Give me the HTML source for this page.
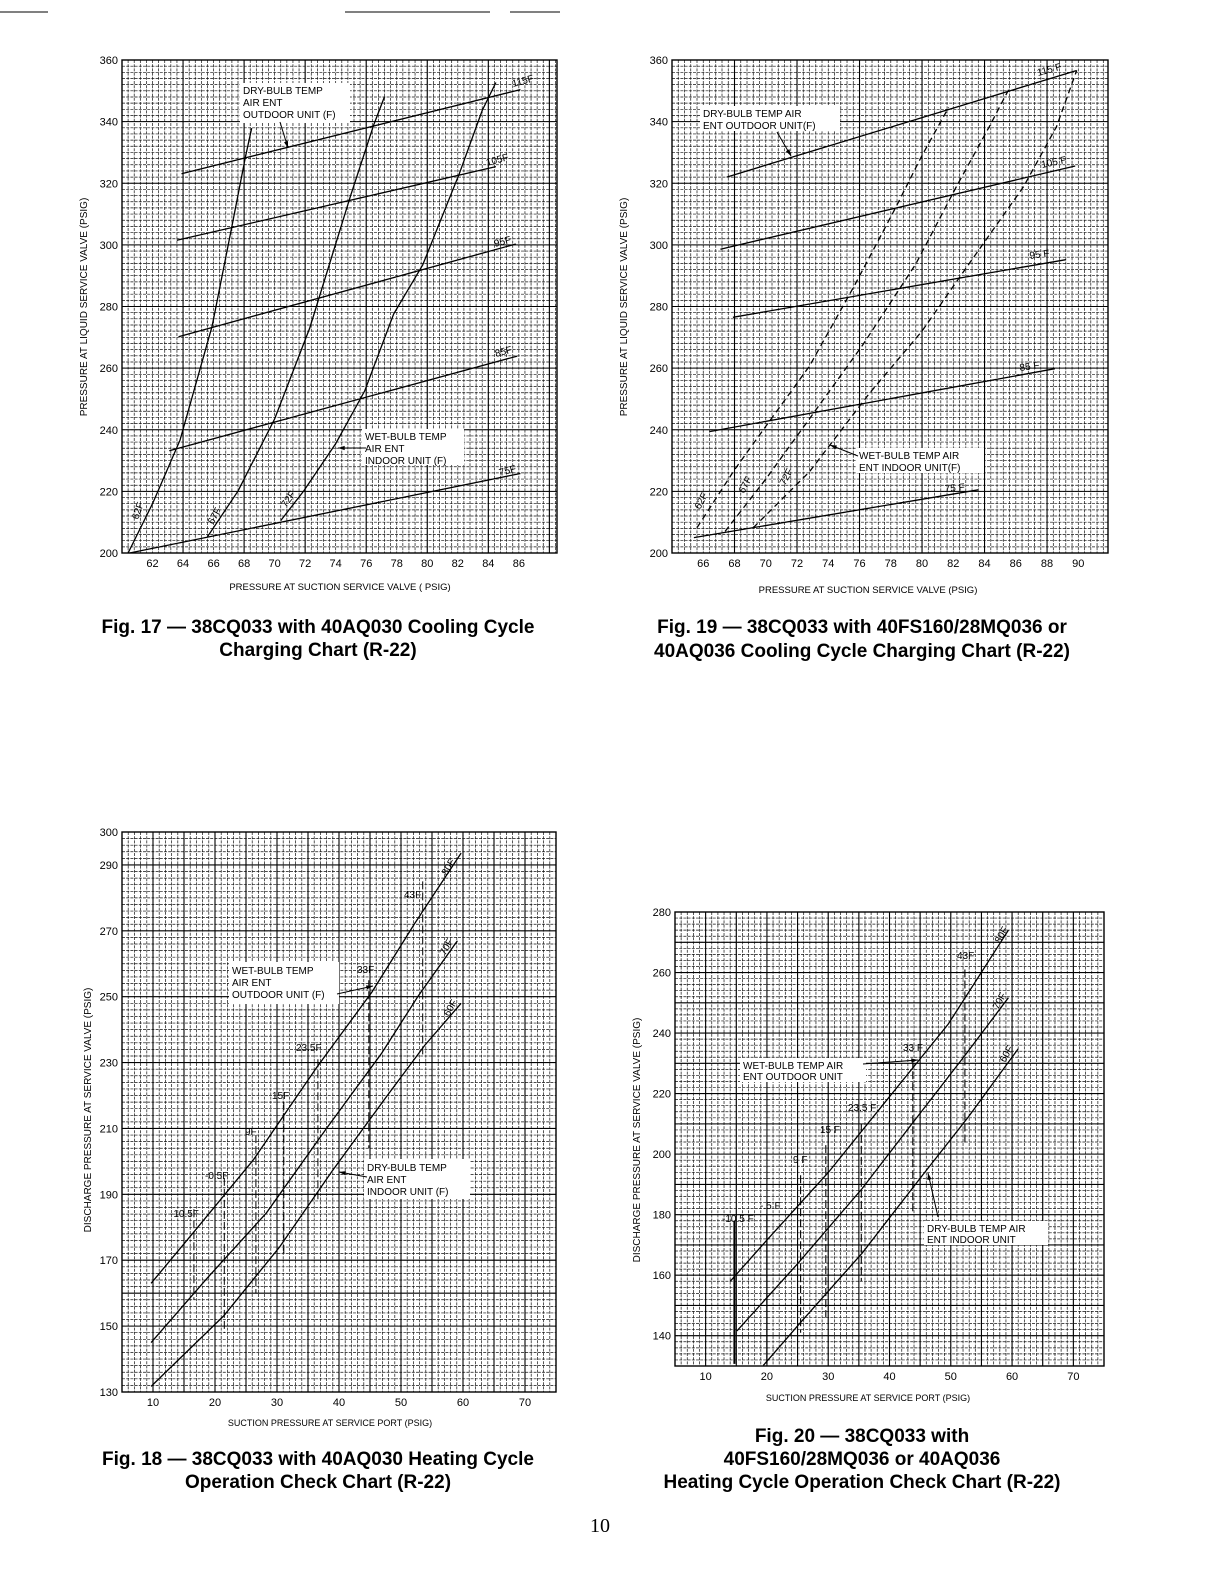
<!DOCTYPE html>
<html><head><meta charset="utf-8">
<style>
html,body{margin:0;padding:0;background:#fff;}
body{width:1222px;height:1583px;overflow:hidden;position:relative;font-family:"Liberation Sans",sans-serif;}
svg{position:absolute;left:0;top:0;}
</style></head>
<body>
<svg id="s" width="1222" height="1583" viewBox="0 0 1222 1583" xmlns="http://www.w3.org/2000/svg">
<line x1="0" y1="12" x2="48" y2="12" stroke="#000" stroke-width="1"/>
<line x1="345" y1="12" x2="490" y2="12" stroke="#000" stroke-width="1"/>
<line x1="510" y1="12" x2="560" y2="12" stroke="#000" stroke-width="1"/>
<text x="600" y="1532" font-family="Liberation Serif,serif" font-size="20" text-anchor="middle">10</text>
</svg>
<script>
const S=document.getElementById('s');const NS='http://www.w3.org/2000/svg';
function el(n,a){const e=document.createElementNS(NS,n);for(const k in a)e.setAttribute(k,a[k]);S.appendChild(e);return e;}
function t(x,y,s,o){o=o||{};const a={x:x,y:y,'font-size':o.fs||10,'text-anchor':o.a||'start','font-family':'Liberation Sans,sans-serif'};
 if(o.w)a['font-weight']=o.w; if(o.r)a.transform='rotate('+o.r+' '+x+' '+y+')';
 const e=el('text',a);e.textContent=s;return e;}
function box(x,y,w,h){el('rect',{x:x,y:y,width:w,height:h,fill:'#fff'});}
function chart(c){
 const X=v=>c.L+(v-c.x0)/(c.x1-c.x0)*(c.R-c.L);
 const Y=v=>c.B-(v-c.y0)/(c.y1-c.y0)*(c.B-c.T);
 c.X=X;c.Y=Y;
 for(let v=c.x0;v<=c.x1+1e-6;v+=c.xm){const x=X(v);el('line',{x1:x,y1:c.T,x2:x,y2:c.B,stroke:'#111','stroke-width':0.7,'stroke-dasharray':'3,1.2'});}
 for(let v=c.y0;v<=c.y1+1e-6;v+=c.ym){const y=Y(v);el('line',{x1:c.L,y1:y,x2:c.R,y2:y,stroke:'#111','stroke-width':0.7,'stroke-dasharray':'3,1.2'});}
 for(const v of c.xM){const x=X(v);el('line',{x1:x,y1:c.T,x2:x,y2:c.B,stroke:'#000','stroke-width':1.1});}
 for(const v of c.yM){const y=Y(v);el('line',{x1:c.L,y1:y,x2:c.R,y2:y,stroke:'#000','stroke-width':1.1});}
 el('rect',{x:c.L,y:c.T,width:c.R-c.L,height:c.B-c.T,fill:'none',stroke:'#000','stroke-width':1.4});
 for(const v of c.yt){t(c.L-4,Y(v)+4,String(v),{fs:11,a:'end'});}
 for(const v of c.xt){t(X(v),c.B+14,String(v),{fs:11,a:'middle'});}
 return c;}
function line(c,pts,dash,w){el('polyline',{points:pts.map(p=>c.X(p[0]).toFixed(1)+','+c.Y(p[1]).toFixed(1)).join(' '),fill:'none',stroke:'#000','stroke-width':w||1.3,'stroke-dasharray':dash||'none'});}
function arrow(x1,y1,x2,y2){el('line',{x1:x1,y1:y1,x2:x2,y2:y2,stroke:'#000','stroke-width':1});
 const a=Math.atan2(y2-y1,x2-x1),l=7;el('polygon',{points:[x2,y2,x2-l*Math.cos(a-0.3),y2-l*Math.sin(a-0.3),x2-l*Math.cos(a+0.3),y2-l*Math.sin(a+0.3)].join(','),fill:'#000'});}
function lbl(x,y,s,r,fs){t(x,y,s,{fs:fs||10,r:r});}

let c1=chart({L:122,R:557,T:60,B:553,x0:60,x1:88.5,y0:200,y1:360,xm:0.4,ym:2,
 xM:[64,68,72,76,80,84,88],yM:[220,240,260,280,300,320,340],yt:[200,220,240,260,280,300,320,340,360],xt:[62,64,66,68,70,72,74,76,78,80,82,84,86]});
line(c1,[[60.5,200],[86.1,225.8]]);line(c1,[[63.1,233.2],[85.9,263.9]]);line(c1,[[63.7,270.2],[85.8,300.3]]);
line(c1,[[63.6,301.5],[84.5,325.4]]);line(c1,[[63.9,323.1],[86.1,350.4]]);
line(c1,[[60.4,200],[62,216],[63.8,236.6],[65.9,273.6],[67.2,306],[68.1,328.8],[68.5,337.9]]);
line(c1,[[65.6,205.3],[67.6,220.1],[70,243.5],[72.3,273],[75,316.3],[76.5,339],[77.2,348.1]]);
line(c1,[[70.4,210.5],[71.9,220.1],[74,235.5],[75.9,252.6],[77.8,277.6],[79.7,293.5],[82.1,323.1],[83.6,343.6],[84.5,352.7]]);
box(240,83,110,40);lbl(243,94,'DRY-BULB TEMP');lbl(243,106,'AIR ENT');lbl(243,118,'OUTDOOR UNIT (F)');arrow(280,122,288,148);
box(362,429,102,36);lbl(365,440,'WET-BULB TEMP');lbl(365,452,'AIR ENT');lbl(365,464,'INDOOR UNIT (F)');arrow(366,448,338,448);
lbl(513,87,'115F',-15);lbl(487,166,'105F',-15);lbl(495,247,'95F',-15);lbl(496,357,'85F',-15);lbl(500,476,'75F',-15);
lbl(138,520,'62F',-70);lbl(213,525,'67F',-60);lbl(286,508,'72F',-55);
t(87,307,'PRESSURE AT LIQUID SERVICE VALVE (PSIG)',{fs:10,a:'middle',r:-90});
t(340,590,'PRESSURE AT SUCTION SERVICE VALVE ( PSIG)',{fs:9.5,a:'middle'});
t(318,633,'Fig. 17 — 38CQ033 with 40AQ030 Cooling Cycle',{fs:19,a:'middle',w:'bold'});
t(318,656,'Charging Chart (R-22)',{fs:19,a:'middle',w:'bold'});

let c2=chart({L:672,R:1108,T:60,B:553,x0:64,x1:91.9,y0:200,y1:360,xm:0.4,ym:2,
 xM:[68,72,76,80,84,88],yM:[220,240,260,280,300,320,340],yt:[200,220,240,260,280,300,320,340,360],xt:[66,68,70,72,74,76,78,80,82,84,86,88,90]});
line(c2,[[65.4,205],[83.6,220.5]]);line(c2,[[66.4,239.4],[88.5,259.8]]);line(c2,[[67.9,276.5],[89.2,295.2]]);
line(c2,[[67.1,298.6],[89.8,325.6]]);line(c2,[[67.5,322],[89.9,356.6]]);
const D='6,4';
line(c2,[[65.6,208.2],[68,227],[70.2,242.5],[72.8,260.7],[75.7,287],[78.3,312],[80,329],[81.7,344.6]],D);
line(c2,[[67.4,207],[70,224],[72.8,243.6],[76.2,267.5],[79.6,293.8],[82.2,318.9],[84.3,338.3],[85.6,350.9]],D);
line(c2,[[69.2,208.2],[72.8,226.4],[76.6,251.6],[80,272],[83,293.8],[86.5,318.9],[88.6,338.3],[89.9,356.6]],D);
box(700,106,140,25);lbl(703,117,'DRY-BULB TEMP AIR');lbl(703,129,'ENT OUTDOOR UNIT(F)');arrow(777,132,791,156);
box(856,448,128,25);lbl(859,459,'WET-BULB TEMP AIR');lbl(859,471,'ENT INDOOR UNIT(F)');arrow(858,456,830,445);
lbl(1038,76,'115 F',-15);lbl(1042,168,'105 F',-12);lbl(1030,259,'95 F',-8);lbl(1020,371,'85 F',-8);lbl(945,492,'75 F',-5);
lbl(700,510,'62F',-62);lbl(744,494,'67F',-62);lbl(785,486,'72F',-62);
t(627,307,'PRESSURE AT LIQUID SERVICE VALVE (PSIG)',{fs:10,a:'middle',r:-90});
t(868,593,'PRESSURE AT SUCTION SERVICE VALVE (PSIG)',{fs:9.5,a:'middle'});
t(862,633,'Fig. 19 — 38CQ033 with 40FS160/28MQ036 or',{fs:19,a:'middle',w:'bold'});
t(862,657,'40AQ036 Cooling Cycle Charging Chart (R-22)',{fs:19,a:'middle',w:'bold'});

let c3=chart({L:122,R:556,T:832,B:1392,x0:5,x1:75,y0:130,y1:300,xm:1,ym:2,
 xM:[10,15,20,25,30,35,40,45,50,55,60,65,70],yM:[150,160,170,190,210,230,250,270,290],yt:[130,150,170,190,210,230,250,270,290,300],xt:[10,20,30,40,50,60,70]});
line(c3,[[9.7,163],[16.6,178.6],[26.2,200.5],[36.3,228.3],[45.3,251.4],[52.2,272.2],[59.7,293.6]]);
line(c3,[[9.7,145],[18.8,164.7],[28.3,184.4],[37.9,209.8],[46.9,232.9],[52.8,250.3],[59.1,267]]);
line(c3,[[9.7,131.7],[21.4,153.1],[30.4,174],[38.9,197.1],[47.4,219],[53.8,235.2],[59.7,248]]);
[[16.6,185.5,158],[21.5,195,148],[26.6,208,160],[31.1,218,172],[36.6,231,188],[44.8,255,204],[53.5,285,232]].forEach(v=>line(c3,[[v[0],v[1]],[v[0],v[2]]],'8,3',1.0));
box(229,962,110,42);lbl(232,974,'WET-BULB TEMP');lbl(232,986,'AIR ENT');lbl(232,998,'OUTDOOR UNIT (F)');arrow(337,994,373,986);
box(364,1159,106,40);lbl(367,1171,'DRY-BULB TEMP');lbl(367,1183,'AIR ENT');lbl(367,1195,'INDOOR UNIT (F)');arrow(367,1177,339,1172);
lbl(447,876,'80F',-60);lbl(445,956,'70F',-60);lbl(449,1017,'60F',-60);
lbl(404,898,'43F');lbl(357,973,'33F');lbl(296,1051,'23.5F');lbl(272,1099,'15F');lbl(245,1135,'9F');lbl(205,1179,'-0.5F');lbl(170,1217,'-10.5F');
t(91,1110,'DISCHARGE PRESSURE AT SERVICE VALVE (PSIG)',{fs:10,a:'middle',r:-90});
t(330,1426,'SUCTION PRESSURE AT SERVICE PORT (PSIG)',{fs:9,a:'middle'});
t(318,1465,'Fig. 18 — 38CQ033 with 40AQ030 Heating Cycle',{fs:19,a:'middle',w:'bold'});
t(318,1488,'Operation Check Chart (R-22)',{fs:19,a:'middle',w:'bold'});

let c4=chart({L:675,R:1104,T:912,B:1366,x0:5,x1:75,y0:130,y1:280,xm:1,ym:2,
 xM:[10,15,20,25,30,35,40,45,50,55,60,65,70],yM:[140,150,160,170,180,190,200,210,220,230,240,250,260,270],yt:[140,160,180,200,220,240,260,280],xt:[10,20,30,40,50,60,70]});
line(c4,[[14,158],[20,171.6],[30,193.9],[40.4,220],[49.6,243],[59.4,274]]);
line(c4,[[15.1,141.6],[25.1,164],[35.5,188.5],[44.2,211.4],[52.3,232.6],[59.4,251.7]]);
line(c4,[[19.4,130.2],[25.7,144.9],[35.5,167.2],[45.3,192.8],[52.9,212.4],[61,234.8]]);
line(c4,[[14.7,178],[14.7,130.7]],null,2);line(c4,[[20,180],[20,130.7]],null,1.3);
[[25.5,193,141],[29.6,203,146],[35.4,210,158],[43.8,231,180],[52.3,261,203]].forEach(v=>line(c4,[[v[0],v[1]],[v[0],v[2]]],'8,3',1.1));
box(740,1058,126,24);lbl(743,1069,'WET-BULB TEMP AIR');lbl(743,1080,'ENT OUTDOOR UNIT');arrow(863,1064,918,1060);
box(924,1221,124,24);lbl(927,1232,'DRY-BULB TEMP AIR');lbl(927,1243,'ENT INDOOR UNIT');arrow(938,1217,928,1173);
lbl(1000,944,'80F',-60);lbl(998,1010,'70F',-60);lbl(1005,1063,'60F',-60);
lbl(957,959,'43F');lbl(903,1051,'33 F');lbl(848,1111,'23.5 F');lbl(820,1133,'15 F');lbl(793,1163,'9 F');lbl(760,1209,'-.5 F');lbl(722,1222,'-10.5 F');
t(640,1140,'DISCHARGE PRESSURE AT SERVICE VALVE (PSIG)',{fs:10,a:'middle',r:-90});
t(868,1401,'SUCTION PRESSURE AT SERVICE PORT (PSIG)',{fs:9,a:'middle'});
t(862,1442,'Fig. 20 — 38CQ033 with',{fs:19,a:'middle',w:'bold'});
t(862,1465,'40FS160/28MQ036 or 40AQ036',{fs:19,a:'middle',w:'bold'});
t(862,1488,'Heating Cycle Operation Check Chart (R-22)',{fs:19,a:'middle',w:'bold'});
</script>
</body></html>
